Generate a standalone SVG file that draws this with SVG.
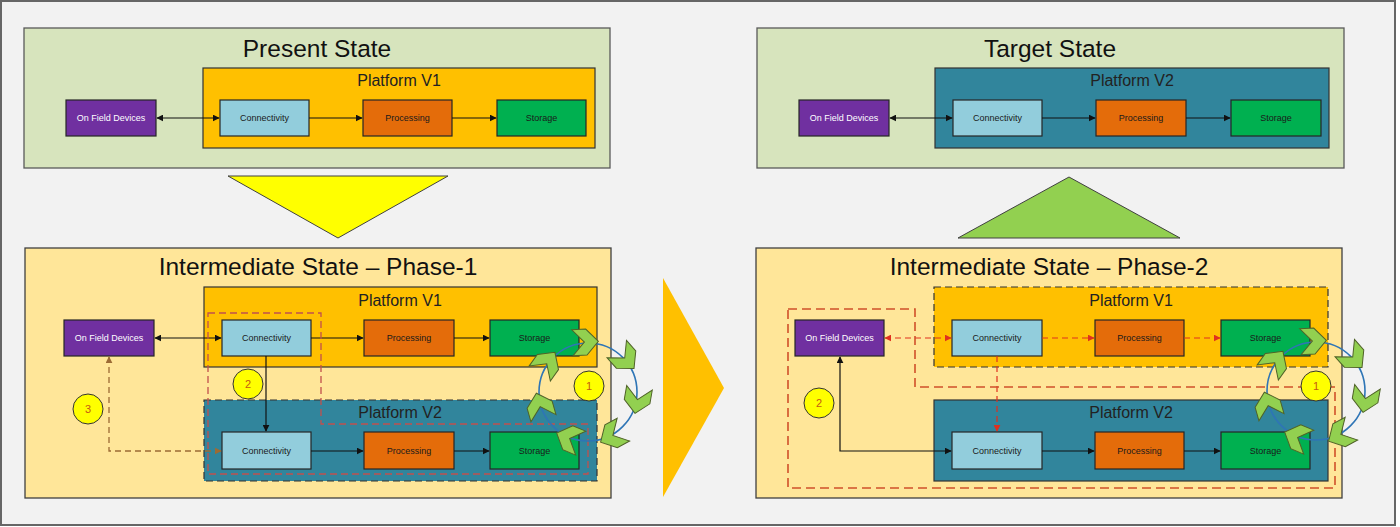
<svg xmlns="http://www.w3.org/2000/svg" xmlns:xlink="http://www.w3.org/1999/xlink" width="1400" height="527" viewBox="0 0 1400 527">
<style>
text{font-family:"Liberation Sans",Arial,sans-serif;text-anchor:middle}
.state{fill:#d7e4bd;stroke:#595959;stroke-width:1.3}
.phase{fill:#ffe699;stroke:#404040;stroke-width:1.3}
.pv1{fill:#ffc000;stroke:#333;stroke-width:1.2}
.pv2{fill:#31859c;stroke:#333;stroke-width:1.2}
.dashb{stroke-dasharray:7 4}
.title{font-size:24.5px;fill:#111}
.ptitle{font-size:16px;fill:#222}
.ofd{fill:#7030a0;stroke:#262626;stroke-width:1.2}
.con{fill:#92cddc;stroke:#262626;stroke-width:1.2}
.pro{fill:#e46c0a;stroke:#262626;stroke-width:1.2}
.sto{fill:#00b050;stroke:#262626;stroke-width:1.2}
.lbl{font-size:9px;fill:#1a1a1a}
.lblw{font-size:9px;fill:#ffffff}
.ln{fill:none;stroke:#111;stroke-width:1.2}
.rd{fill:none;stroke:#e0301e;stroke-width:1.2;stroke-dasharray:6 4}
.br{fill:none;stroke:#9c6b35;stroke-width:1.3;stroke-dasharray:6 4}
.zone1{fill:none;stroke:#c0504d;stroke-width:1.3;stroke-dasharray:7 4}
.zone2{fill:none;stroke:#d0502a;stroke-width:1.6;stroke-dasharray:9 5}
.num{fill:#ffff00;stroke:#333;stroke-width:1}
.numt{font-size:11px;fill:#c55a11}
.cyc{fill:none;stroke:#2e75b6;stroke-width:1.6}
.chev{fill:#92d050;stroke:#4f6228;stroke-width:1}
</style>
<defs>
<marker id="ab" viewBox="0 0 10 10" refX="9" refY="5" markerWidth="7" markerHeight="7" markerUnits="userSpaceOnUse" orient="auto-start-reverse"><path d="M0,0 L10,5 L0,10 Z" fill="#111"/></marker>
<marker id="ar" viewBox="0 0 10 10" refX="9" refY="5" markerWidth="7" markerHeight="7" markerUnits="userSpaceOnUse" orient="auto-start-reverse"><path d="M0,0 L10,5 L0,10 Z" fill="#e0301e"/></marker>
<marker id="abr" viewBox="0 0 10 10" refX="9" refY="5" markerWidth="7" markerHeight="7" markerUnits="userSpaceOnUse" orient="auto-start-reverse"><path d="M0,0 L10,5 L0,10 Z" fill="#9c6b35"/></marker>
<path id="chev" d="M-13,-13 L1,-13 L13,0 L1,13 L-13,13 L-1,0 Z"/>
</defs>

<rect x="0" y="0" width="1400" height="527" fill="#ffffff"/>
<rect x="1" y="1" width="1394" height="524" fill="#f2f2f2" stroke="#666" stroke-width="2"/>

<!-- Present State -->
<g id="present-state">
<rect class="state" x="24" y="28" width="586" height="140"/>
<text class="title" x="317" y="57">Present State</text>
</g>
<g id="present-platform-v1">
<rect class="pv1" x="203" y="68" width="392" height="80"/>
<text class="ptitle" x="399" y="86">Platform V1</text>
</g>
<g id="present-ofd"><rect class="ofd" x="66" y="100" width="90" height="36"/><text class="lblw" x="111" y="121">On Field Devices</text></g>
<g id="present-conn"><rect class="con" x="220" y="100" width="89" height="36"/><text class="lbl" x="264.5" y="121">Connectivity</text></g>
<g id="present-proc"><rect class="pro" x="363" y="100" width="89" height="36"/><text class="lbl" x="407.5" y="121">Processing</text></g>
<g id="present-stor"><rect class="sto" x="497" y="100" width="89" height="36"/><text class="lbl" x="541.5" y="121">Storage</text></g>

<!-- Target State -->
<g id="target-state">
<rect class="state" x="757" y="28" width="587" height="140"/>
<text class="title" x="1050" y="57">Target State</text>
</g>
<g id="target-platform-v2">
<rect class="pv2" x="935" y="68" width="394" height="80"/>
<text class="ptitle" x="1132" y="86">Platform V2</text>
</g>
<g id="target-ofd"><rect class="ofd" x="799" y="100" width="90" height="36"/><text class="lblw" x="844" y="121">On Field Devices</text></g>
<g id="target-conn"><rect class="con" x="953" y="100" width="89" height="36"/><text class="lbl" x="997.5" y="121">Connectivity</text></g>
<g id="target-proc"><rect class="pro" x="1096" y="100" width="90" height="36"/><text class="lbl" x="1141" y="121">Processing</text></g>
<g id="target-stor"><rect class="sto" x="1231" y="100" width="90" height="36"/><text class="lbl" x="1276" y="121">Storage</text></g>

<!-- transition triangles -->
<g id="arrow-down"><polygon points="228,176 448,176 338,238" fill="#ffff00" stroke="#404040" stroke-width="1"/></g>
<g id="arrow-up"><polygon points="958,238 1180,238 1069,177" fill="#92d050" stroke="#404040" stroke-width="1"/></g>
<g id="arrow-right"><polygon points="663,278 663,497 724,388" fill="#ffc000" stroke="none"/></g>

<!-- Phase 1 -->
<g id="phase1">
<rect class="phase" x="25" y="248" width="586" height="250"/>
<text class="title" x="318" y="275">Intermediate State – Phase-1</text>
</g>
<g id="p1-platform-v1">
<rect class="pv1" x="204" y="287" width="393" height="80"/>
<text class="ptitle" x="400" y="306">Platform V1</text>
</g>
<g id="p1-platform-v2">
<rect class="pv2 dashb" x="204" y="400" width="393" height="81"/>
<text class="ptitle" x="400" y="418">Platform V2</text>
</g>
<g id="p1-ofd"><rect class="ofd" x="64" y="320" width="90" height="36"/><text class="lblw" x="109" y="341">On Field Devices</text></g>
<g id="p1-conn1"><rect class="con" x="222" y="320" width="89" height="36"/><text class="lbl" x="266.5" y="341">Connectivity</text></g>
<g id="p1-proc1"><rect class="pro" x="364" y="320" width="90" height="36"/><text class="lbl" x="409" y="341">Processing</text></g>
<g id="p1-stor1"><rect class="sto" x="490" y="320" width="89" height="36"/><text class="lbl" x="534.5" y="341">Storage</text></g>
<g id="p1-conn2"><rect class="con" x="222" y="432" width="89" height="37"/><text class="lbl" x="266.5" y="454">Connectivity</text></g>
<g id="p1-proc2"><rect class="pro" x="364" y="432" width="90" height="37"/><text class="lbl" x="409" y="454">Processing</text></g>
<g id="p1-stor2"><rect class="sto" x="490" y="432" width="89" height="37"/><text class="lbl" x="534.5" y="454">Storage</text></g>

<!-- Phase 2 -->
<g id="phase2">
<rect class="phase" x="756" y="248" width="586" height="250"/>
<text class="title" x="1049" y="275">Intermediate State – Phase-2</text>
</g>
<g id="p2-platform-v1">
<rect class="pv1 dashb" x="934" y="287" width="394" height="80"/>
<text class="ptitle" x="1131" y="306">Platform V1</text>
</g>
<g id="p2-platform-v2">
<rect class="pv2" x="934" y="400" width="394" height="81"/>
<text class="ptitle" x="1131" y="418">Platform V2</text>
</g>
<g id="p2-ofd"><rect class="ofd" x="795" y="320" width="89" height="36"/><text class="lblw" x="839.5" y="341">On Field Devices</text></g>
<g id="p2-conn1"><rect class="con" x="952" y="320" width="90" height="36"/><text class="lbl" x="997" y="341">Connectivity</text></g>
<g id="p2-proc1"><rect class="pro" x="1095" y="320" width="89" height="36"/><text class="lbl" x="1139.5" y="341">Processing</text></g>
<g id="p2-stor1"><rect class="sto" x="1221" y="320" width="89" height="36"/><text class="lbl" x="1265.5" y="341">Storage</text></g>
<g id="p2-conn2"><rect class="con" x="952" y="432" width="90" height="37"/><text class="lbl" x="997" y="454">Connectivity</text></g>
<g id="p2-proc2"><rect class="pro" x="1095" y="432" width="89" height="37"/><text class="lbl" x="1139.5" y="454">Processing</text></g>
<g id="p2-stor2"><rect class="sto" x="1221" y="432" width="89" height="37"/><text class="lbl" x="1265.5" y="454">Storage</text></g>

<!-- connectors -->
<g id="connectors">
<line class="ln" x1="157" y1="118" x2="219" y2="118" marker-start="url(#ab)" marker-end="url(#ab)"/>
<line class="ln" x1="309" y1="118" x2="362" y2="118" marker-end="url(#ab)"/>
<line class="ln" x1="452" y1="118" x2="496" y2="118" marker-end="url(#ab)"/>

<line class="ln" x1="890" y1="118" x2="952" y2="118" marker-start="url(#ab)" marker-end="url(#ab)"/>
<line class="ln" x1="1042" y1="118" x2="1095" y2="118" marker-end="url(#ab)"/>
<line class="ln" x1="1186" y1="118" x2="1230" y2="118" marker-end="url(#ab)"/>

<line class="ln" x1="155" y1="338" x2="221" y2="338" marker-start="url(#ab)" marker-end="url(#ab)"/>
<line class="ln" x1="311" y1="338" x2="363" y2="338" marker-end="url(#ab)"/>
<line class="ln" x1="454" y1="338" x2="489" y2="338" marker-end="url(#ab)"/>
<line class="ln" x1="266" y1="356" x2="266" y2="431" marker-end="url(#ab)"/>
<line class="ln" x1="311" y1="451" x2="363" y2="451" marker-end="url(#ab)"/>
<line class="ln" x1="454" y1="451" x2="489" y2="451" marker-end="url(#ab)"/>
<path class="br" d="M109,357 V451 H221" marker-start="url(#abr)" marker-end="url(#abr)"/>

<line class="rd" x1="885" y1="338" x2="951" y2="338" marker-start="url(#ar)" marker-end="url(#ar)"/>
<line class="rd" x1="1042" y1="338" x2="1094" y2="338" marker-end="url(#ar)"/>
<line class="rd" x1="1184" y1="338" x2="1220" y2="338" marker-end="url(#ar)"/>
<line class="rd" x1="997" y1="356" x2="997" y2="431" marker-end="url(#ar)"/>
<path class="ln" d="M840,357 V451 H951" marker-start="url(#ab)" marker-end="url(#ab)"/>
<line class="ln" x1="1042" y1="451" x2="1094" y2="451" marker-end="url(#ab)"/>
<line class="ln" x1="1184" y1="451" x2="1220" y2="451" marker-end="url(#ab)"/>
</g>

<!-- scope outlines -->
<g id="p1-scope"><path class="zone1" d="M208,313 H321 V424 H588 V474 H208 Z"/></g>
<g id="p2-scope"><path class="zone2" d="M788,309 H915 V387 H1335 V488 H788 Z"/></g>

<!-- numbered markers -->
<g id="p1-num2"><circle class="num" cx="248" cy="384" r="15"/><text class="numt" x="248" y="388">2</text></g>
<g id="p1-num3"><circle class="num" cx="88" cy="409" r="15"/><text class="numt" x="88" y="413">3</text></g>
<g id="p1-num1"><circle class="num" cx="589" cy="386" r="15"/><text class="numt" x="589" y="390">1</text></g>
<g id="p2-num2"><circle class="num" cx="819" cy="403" r="15"/><text class="numt" x="819" y="407">2</text></g>
<g id="p2-num1"><circle class="num" cx="1316" cy="386" r="15"/><text class="numt" x="1316" y="390">1</text></g>

<!-- sync cycles -->
<g id="p1-cycle" transform="translate(588,392)">
<circle class="cyc" cx="0" cy="0" r="49"/>
<use class="chev" xlink:href="#chev" href="#chev" transform="rotate(-93) translate(50,0) rotate(90)"/>
<use class="chev" xlink:href="#chev" href="#chev" transform="rotate(-41.6) translate(50,0) rotate(90)"/>
<use class="chev" xlink:href="#chev" href="#chev" transform="rotate(9.9) translate(50,0) rotate(90)"/>
<use class="chev" xlink:href="#chev" href="#chev" transform="rotate(61.3) translate(50,0) rotate(90)"/>
<use class="chev" xlink:href="#chev" href="#chev" transform="rotate(112.7) translate(50,0) rotate(90)"/>
<use class="chev" xlink:href="#chev" href="#chev" transform="rotate(164.1) translate(50,0) rotate(90)"/>
<use class="chev" xlink:href="#chev" href="#chev" transform="rotate(215.6) translate(50,0) rotate(90)"/>
</g>
<g id="p2-cycle" transform="translate(1316,391)">
<circle class="cyc" cx="0" cy="0" r="49"/>
<use class="chev" xlink:href="#chev" href="#chev" transform="rotate(-93) translate(50,0) rotate(90)"/>
<use class="chev" xlink:href="#chev" href="#chev" transform="rotate(-41.6) translate(50,0) rotate(90)"/>
<use class="chev" xlink:href="#chev" href="#chev" transform="rotate(9.9) translate(50,0) rotate(90)"/>
<use class="chev" xlink:href="#chev" href="#chev" transform="rotate(61.3) translate(50,0) rotate(90)"/>
<use class="chev" xlink:href="#chev" href="#chev" transform="rotate(112.7) translate(50,0) rotate(90)"/>
<use class="chev" xlink:href="#chev" href="#chev" transform="rotate(164.1) translate(50,0) rotate(90)"/>
<use class="chev" xlink:href="#chev" href="#chev" transform="rotate(215.6) translate(50,0) rotate(90)"/>
</g>
</svg>
